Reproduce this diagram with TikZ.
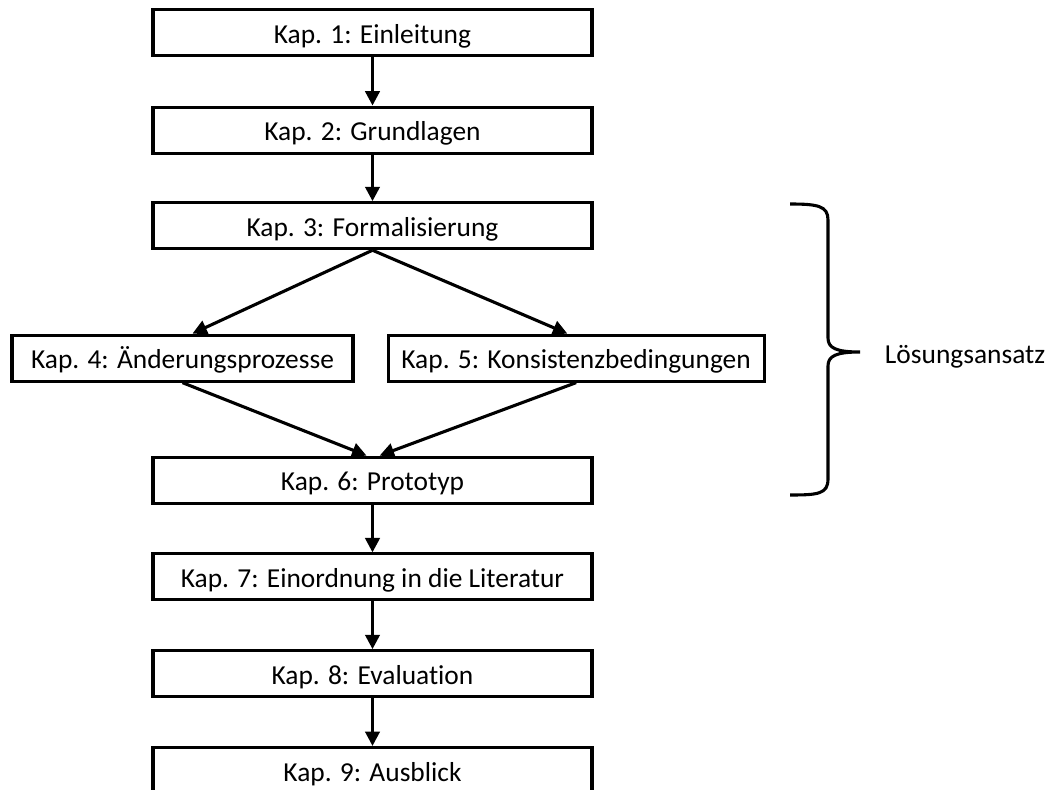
\documentclass[tikz,border=0pt]{standalone}
\usepackage{fontspec}
\setmainfont{Carlito}[Ligatures=NoCommon]
\usepackage{tikz}
\usetikzlibrary{arrows.meta, positioning}
\tikzstyle{chapter} = [rectangle, minimum width=10.975cm, minimum height=1.15cm, text centered, text height=0.53cm, text depth=0cm, draw=black, line width=2.2pt]
\tikzstyle{arrow} = [line width=2.2pt,-{Triangle[length=0.36cm,width=0.36cm]}]
\tikzstyle{brace} = [line width=2.2pt]

\begin{document}
\begin{tikzpicture}[node distance=2.42cm, font=\fontsize{19.5}{23}\selectfont]
  \useasboundingbox (0,0) rectangle (26.125,-19.75);

  \node (kap1) [chapter] at (9.3125,-0.8125) {Kap. 1: Einleitung};
  \node (kap2) [chapter, below of=kap1, yshift=-0.02cm] {Kap. 2: Grundlagen};
  \node (kap3) [chapter, below of=kap2, yshift=0.03cm] {Kap. 3: Formalisierung};
  \node (kap4) [chapter, below of=kap3, yshift=-0.89cm, xshift=-4.75cm, minimum width=8.525cm] {Kap. 4: Änderungsprozesse};
  \node (kap5) [chapter, below of=kap3, yshift=-0.89cm, xshift=5.09cm, minimum width=9.4cm] {Kap. 5: Konsistenzbedingungen};
  \node (kap6) [chapter, below of=kap3, yshift=-3.94cm] {Kap. 6: Prototyp};
  \node (kap7) [chapter, below of=kap6] {Kap. 7: Einordnung in die Literatur};
  \node (kap8) [chapter, below of=kap7] {Kap. 8: Evaluation};
  \node (kap9) [chapter, below of=kap8] {Kap. 9: Ausblick};

  \draw [arrow] (kap1) -- (kap2);
  \draw [arrow] (kap2) -- (kap3);
  \draw [arrow] (kap3.south) -- ([xshift=0.25cm]kap4.north);
  \draw [arrow] (kap3.south) -- ([xshift=-0.22cm]kap5.north);
  \draw [arrow] (kap4.south) -- ([xshift=-0.15cm]kap6.north);
  \draw [arrow] (kap5.south) -- ([xshift=0.18cm]kap6.north);
  \draw [arrow] (kap6) -- (kap7);
  \draw [arrow] (kap7) -- (kap8);
  \draw [arrow] (kap8) -- (kap9);

  % brace for the solution part
  \coordinate (tip) at (21.5,-8.8);
  \draw [brace] (19.75,-5.1) .. controls (20.45,-5.1) and (20.7,-5.15) .. (20.7,-5.5)
    -- (20.7,-8.45) .. controls (20.7,-8.7) and (20.9,-8.8) .. (tip)
    .. controls (20.9,-8.8) and (20.7,-8.9) .. (20.7,-9.15)
    -- (20.7,-11.975) .. controls (20.7,-12.35) and (20.45,-12.375) .. (19.75,-12.375);
  \node (ansatz) [anchor=west] at (22.0,-8.925) {Lösungsansatz};

\end{tikzpicture}
\end{document}
